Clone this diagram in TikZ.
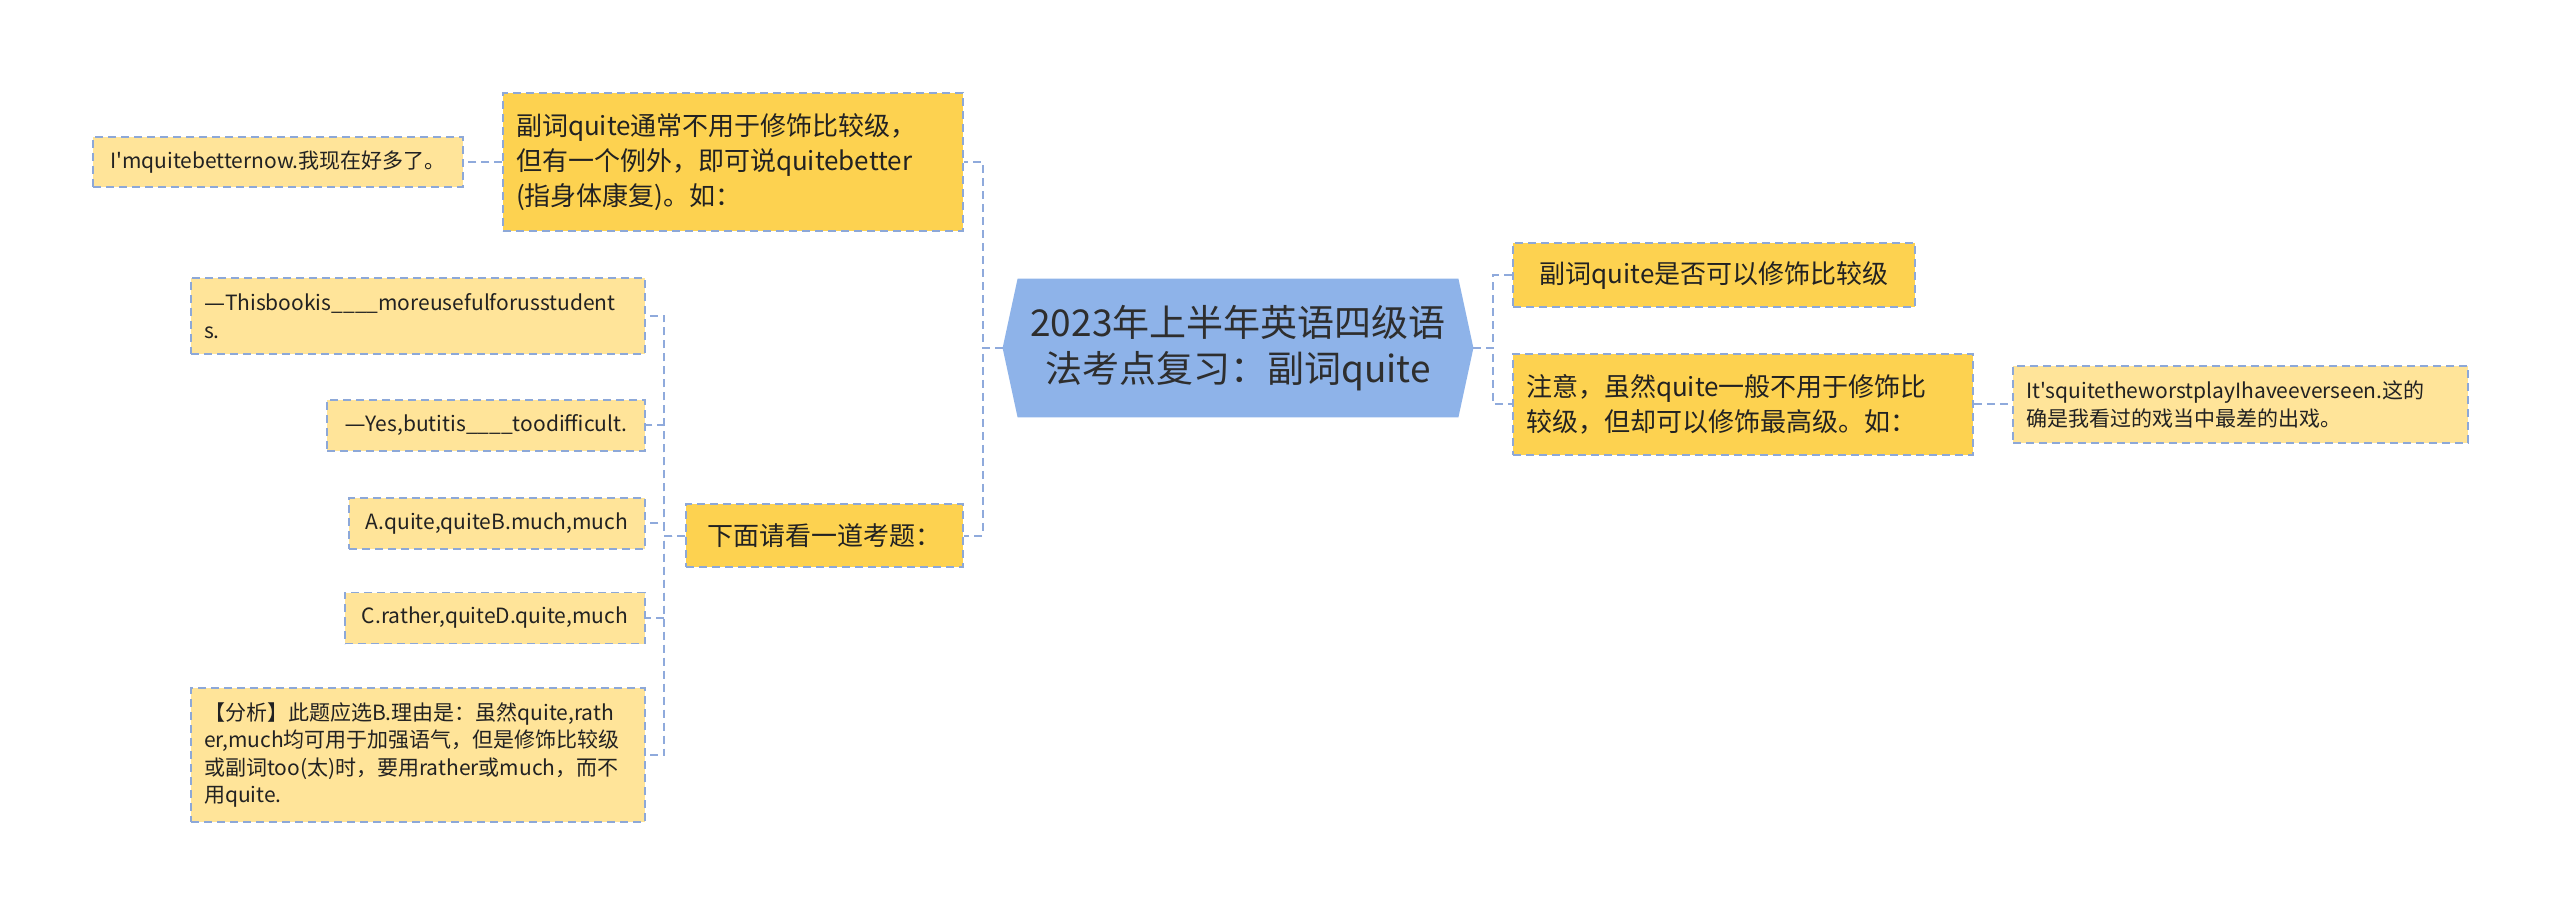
\documentclass[tikz,border=0pt]{standalone}
\usepackage{fontspec}
\setmainfont{Noto Sans CJK SC}
\newfontfamily\dashfont{DejaVu Sans}
\newcommand\myapos{\XeTeXglyph\XeTeXcharglyph"0027\relax}
\newcommand\mydash{{\dashfont —}}
\usetikzlibrary{backgrounds}
\definecolor{gold}{HTML}{FDD250}
\definecolor{leafc}{HTML}{FFE499}
\definecolor{bordc}{HTML}{8DA8D8}
\definecolor{connc}{HTML}{8FAADC}
\definecolor{hexc}{HTML}{8EB3E9}
\definecolor{txt}{HTML}{222222}
\definecolor{titc}{HTML}{2E2E2E}
\begin{document}
\begin{tikzpicture}[x=0.5pt,y=-0.5pt,
  box/.style={rectangle, draw=bordc, line width=0.75pt, dash pattern=on 4pt off 2.5pt, inner xsep=6.5pt, inner ysep=0pt, text=txt},
  mainbox/.style={box, fill=gold, font=\fontsize{13pt}{17.5pt}\selectfont},
  leafbox/.style={box, fill=leafc, font=\fontsize{10.5pt}{13.75pt}\selectfont},
  conn/.style={draw=connc, line width=1pt, dash pattern=on 4pt off 2.5pt}]
\begin{scope}[on background layer]
\fill[white] (0,0) rectangle (2560,914);
\end{scope}
\useasboundingbox (0,0) rectangle (2560,914);

% central
\node[minimum width=220pt, minimum height=69pt, inner sep=0pt, align=center, text=titc,
      font=\fontsize{18.5pt}{23pt}\selectfont] (hex) at (1238,348)
  {2023年上半年英语四级语\\法考点复习：副词quite};
\coordinate (hexL) at ([xshift=-7.5pt]hex.west);
\coordinate (hexR) at ([xshift=7.5pt]hex.east);
\begin{scope}[on background layer]
\fill[hexc] (hex.north west) -- (hex.north east) -- (hexR) -- (hex.south east) -- (hex.south west) -- (hexL) -- cycle;
\end{scope}

% left main branches
\node[mainbox, minimum width=230pt, minimum height=69pt, text width=217pt, align=left] (L1) at (733,162)
  {副词quite通常不用于修饰比较级，\\但有一个例外，即可说quitebetter\\(指身体康复)。如：};
\node[leafbox, minimum width=185pt, minimum height=25pt] (leafI) at (278,162)
  {I\myapos mquitebetternow.我现在好多了。};
\node[mainbox, minimum width=138.5pt, minimum height=31.5pt] (L2) at (824.5,535.5)
  {下面请看一道考题：};

\node[leafbox, minimum width=227pt, minimum height=38pt, text width=214pt, align=left] (q1) at (418,316)
  {\mydash Thisbookis\_\_\_\_moreusefulforusstudent\\s.};
\node[leafbox, minimum width=159pt, minimum height=25.5pt] (q2) at (486,425.5)
  {\mydash Yes,butitis\_\_\_\_toodifficult.};
\node[leafbox, minimum width=148pt, minimum height=25.5pt] (q3) at (497,523.5)
  {A.quite,quiteB.much,much};
\node[leafbox, minimum width=150pt, minimum height=25.5pt] (q4) at (495,618)
  {C.rather,quiteD.quite,much};
\node[leafbox, minimum width=227pt, minimum height=67pt, text width=214pt, align=left] (q5) at (418,755)
  {【分析】此题应选B.理由是：虽然quite,rath\\er,much均可用于加强语气，但是修饰比较级\\或副词too(太)时，要用rather或much，而不\\用quite.};

% right branches
\node[mainbox, minimum width=201pt, minimum height=32pt] (R1) at (1714,275)
  {副词quite是否可以修饰比较级};
\node[mainbox, minimum width=230pt, minimum height=50.5pt, text width=217pt, align=left] (R2) at (1743,404.5)
  {注意，虽然quite一般不用于修饰比\\较级，但却可以修饰最高级。如：};
\node[leafbox, minimum width=227.5pt, minimum height=38.5pt, text width=214.5pt, align=left] (leafR) at (2240.5,404.5)
  {It\myapos squitetheworstplayIhaveeverseen.这的\\确是我看过的戏当中最差的出戏。};

% connectors
\draw[conn] (hexL) -- ++(-20,0) |- (L1.east);
\draw[conn] (hexL) -- ++(-20,0) |- (L2.east);
\draw[conn] (L1.west) -- (leafI.east);
\foreach \q in {q1,q2,q3,q4,q5}
  \draw[conn] (L2.west) -- ++(-21,0) |- (\q.east);
\draw[conn] (hexR) -- ++(20,0) |- (R1.west);
\draw[conn] (hexR) -- ++(20,0) |- (R2.west);
\draw[conn] (R2.east) -- (leafR.west);
\end{tikzpicture}
\end{document}
